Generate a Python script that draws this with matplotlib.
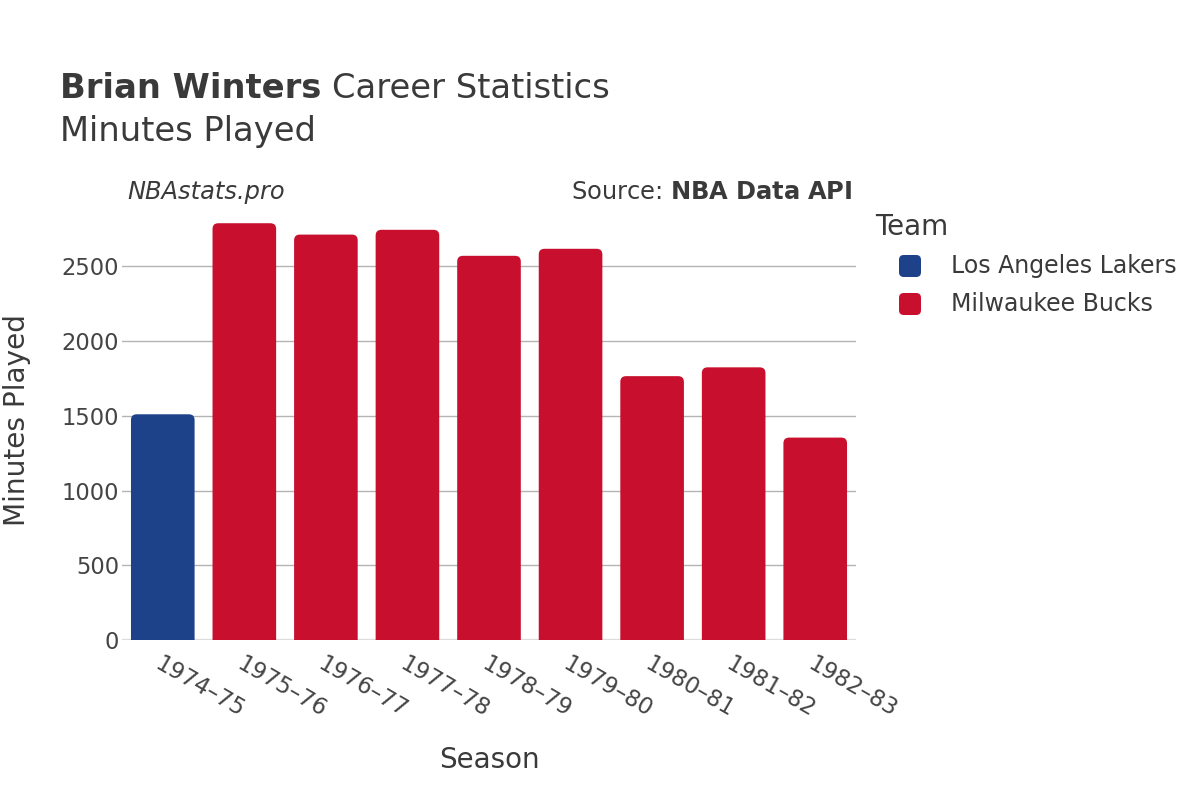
import matplotlib
matplotlib.use("Agg")
import matplotlib.pyplot as plt
from matplotlib.patches import FancyBboxPatch

seasons = ["1974–75", "1975–76", "1976–77", "1977–78", "1978–79",
           "1979–80", "1980–81", "1981–82", "1982–83"]
minutes = [1510, 2788, 2712, 2744, 2570, 2617, 1765, 1824, 1354]
teams = ["Los Angeles Lakers"] + ["Milwaukee Bucks"] * 8
team_names = ["Los Angeles Lakers", "Milwaukee Bucks"]
team_colors = {"Los Angeles Lakers": "#1d428a", "Milwaukee Bucks": "#c8102e"}
yticks = [0, 500, 1000, 1500, 2000, 2500]

W, H = 1200, 800
fig = plt.figure(figsize=(12, 8), dpi=100)
left, right, bottom, top = 122, 856, 640, 202
ax = fig.add_axes([left / W, 1 - bottom / H, (right - left) / W, (bottom - top) / H])

ymax = 2930
ax.set_xlim(-0.5, len(seasons) - 0.5)
ax.set_ylim(0, ymax)

xs = list(range(len(seasons)))
bars = ax.bar(xs, minutes, width=0.78, color=[team_colors[t] for t in teams])
px_per_x = (right - left) / len(seasons)
px_per_y = (bottom - top) / ymax
aspect = (1 / px_per_y) / (1 / px_per_x)
for b in bars:
    x, y, w, h = b.get_x(), b.get_y(), b.get_width(), b.get_height()
    b.set_visible(False)
    p = FancyBboxPatch((x, y - 60), w, h + 60,
                       boxstyle="round,pad=0,rounding_size=0.07",
                       mutation_aspect=aspect, facecolor=b.get_facecolor(),
                       edgecolor="none", zorder=3, clip_on=True)
    ax.add_patch(p)

txt = "#3a3a3a"
ax.set_yticks(yticks)
ax.set_yticklabels([str(v) for v in yticks], fontsize=16.3, color="#444444")
ax.grid(axis="y", color="#b4b4b4", linewidth=1, zorder=0)
ax.axhline(0, color="#e8e8e8", linewidth=2.5, zorder=1)
ax.set_xticks(xs)
ax.set_xticklabels(seasons, rotation=-30, ha="left", rotation_mode="anchor",
                   fontsize=16.5, color="#444444")
ax.tick_params(axis="y", length=0, pad=2)
ax.tick_params(axis="x", length=0, pad=9)
for s in ax.spines.values():
    s.set_visible(False)

t1 = fig.text(60 / W, 1 - 88 / H, "Brian Winters", fontsize=24.3, fontweight="bold",
              color=txt, va="center", ha="left")
fig.canvas.draw()
bb = t1.get_window_extent(fig.canvas.get_renderer())
fig.text((bb.x1 + 11) / W, 1 - 88 / H, "Career Statistics", fontsize=24.3,
         color=txt, va="center", ha="left")
fig.text(60 / W, 1 - 132 / H, "Minutes Played", fontsize=24.3, color=txt,
         va="center", ha="left")
fig.text(127 / W, 1 - 192 / H, "NBAstats.pro", fontsize=17.4, style="italic",
         color=txt, va="center", ha="left")
fig.text(852 / W, 1 - 192 / H, r"Source: $\bf{NBA\ Data\ API}$", fontsize=17.4,
         color=txt, va="center", ha="right")

fig.text(17 / W, 1 - 420 / H, "Minutes Played", fontsize=20.2, color=txt,
         rotation=90, va="center", ha="center")
fig.text(489 / W, 1 - 760 / H, "Season", fontsize=20, color=txt,
         va="center", ha="center")

# legend
fig.text(875 / W, 1 - 227 / H, "Team", fontsize=20, color=txt,
         va="center", ha="left")
for i, t in enumerate(team_names):
    cy = 266 + i * 38
    sz = 22
    fig.patches.append(FancyBboxPatch(((910 - sz / 2) / W, 1 - (cy + sz / 2) / H),
                                      sz / W, sz / H,
                                      boxstyle="round,pad=0,rounding_size=0.004",
                                      mutation_aspect=W / H,
                                      transform=fig.transFigure,
                                      facecolor=team_colors[t], edgecolor="none"))
    fig.text(951 / W, 1 - cy / H, t, fontsize=17, color=txt, va="center", ha="left")

fig.savefig("out.png", dpi=100)
